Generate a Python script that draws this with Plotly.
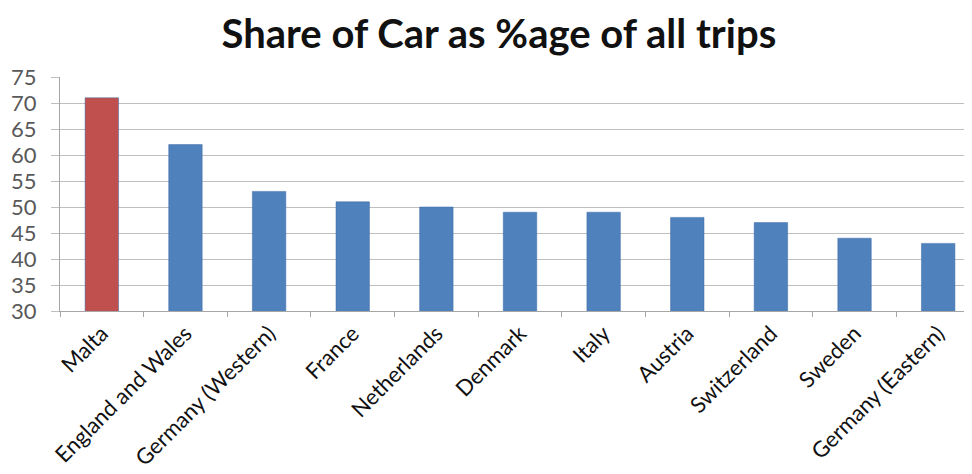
import plotly.graph_objects as go

countries = ["Malta", "England and Wales", "Germany (Western)", "France", "Netherlands",
             "Denmark", "Italy", "Austria", "Switzerland", "Sweden", "Germany (Eastern)"]
car_share = [71, 62, 53, 51, 50, 49, 49, 48, 47, 44, 43]
bar_colors = ["#C0504D"] + ["#4F81BD"] * 10
y_ticks = [30, 35, 40, 45, 50, 55, 60, 65, 70, 75]

fig = go.Figure(go.Bar(
    x=countries, y=car_share, marker_color=bar_colors,
    marker_line=dict(color="#3a6aa5", width=0.5), width=0.4,
))

fig.update_layout(
    width=972, height=474,
    margin=dict(l=52, r=0, t=69, b=171),
    plot_bgcolor="white", paper_bgcolor="white",
    title=dict(text="<b>Share of Car as %age of all trips</b>", x=0.505, xanchor="center",
               y=0.945, yanchor="middle",
               font=dict(family="Lato, Open Sans, sans-serif", size=40, color="#111111")),
    showlegend=False,
    font=dict(family="Lato, Open Sans, sans-serif"),
)
fig.update_yaxes(range=[30, 75], tickvals=y_ticks, showgrid=True, gridcolor="#bfbfbf", gridwidth=1,
                 showline=True, linecolor="#a6a6a6", ticks="outside", ticklen=8, tickcolor="#bfbfbf",
                 ticklabelstandoff=10,
                 tickfont=dict(size=22, color="#595959"), zeroline=False)
fig.update_xaxes(tickangle=-45, showline=True, linecolor="#a6a6a6", ticks="outside",
                 tickson="boundaries", ticklen=5, tickcolor="#a6a6a6",
                 tickfont=dict(size=22, color="#111111"), range=[-0.5, 10.5])

fig.write_html("out.html")
